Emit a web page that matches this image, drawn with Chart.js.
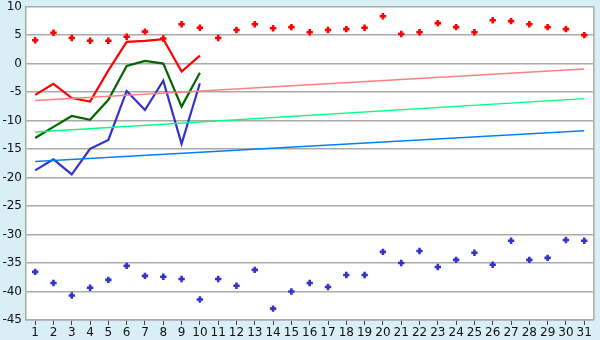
<!DOCTYPE html>
<html>
<head>
<meta charset="utf-8">
<script src="https://cdn.jsdelivr.net/npm/chart.js@4/dist/chart.umd.min.js"></script>
<style>
html,body{margin:0;padding:0;background:#d9eff6;}
canvas{display:block;}
</style>
</head>
<body>
<canvas id="c" width="600" height="340"></canvas>
<script>
const days = ['1','2','3','4','5','6','7','8','9','10','11','12','13','14','15','16','17','18','19','20','21','22','23','24','25','26','27','28','29','30','31'];
const redPoints = [4.1,5.4,4.5,4.0,4.0,4.7,5.6,4.4,6.9,6.3,4.5,5.9,6.9,6.2,6.4,5.5,5.9,6.05,6.3,8.3,5.2,5.5,7.1,6.4,5.5,7.6,7.45,6.9,6.4,6.05,5.0];
const bluePoints = [-36.55,-38.5,-40.7,-39.35,-37.95,-35.5,-37.25,-37.4,-37.8,-41.4,-37.8,-39.0,-36.2,-43.0,-40.0,-38.5,-39.2,-37.1,-37.1,-33.05,-35.0,-32.9,-35.7,-34.45,-33.2,-35.3,-31.1,-34.45,-34.1,-30.95,-31.1];
const redLine = [-5.5,-3.55,-6.05,-6.65,-1.2,3.8,4.0,4.3,-1.4,1.4];
const greenLine = [-13.05,-11.1,-9.2,-9.85,-6.35,-0.4,0.47,0.0,-7.55,-1.6];
const blueLine = [-18.75,-16.8,-19.45,-14.95,-13.4,-4.8,-8.15,-3.0,-14.1,-3.45];
const pinkTrend = [-6.5,-0.93];
const greenTrend = [-12.0,-6.15];
const blueTrend = [-17.2,-11.77];
const yTicks = [10,5,0,-5,-10,-15,-20,-25,-30,-35,-40,-45];

function endpoints(pair){
  const arr = days.map(()=>null);
  arr[0] = pair[0];
  arr[days.length-1] = pair[1];
  return arr;
}

const bgPlugin = {
  id:'bg',
  beforeDraw(chart){
    const {ctx, chartArea:a} = chart;
    ctx.save();
    ctx.fillStyle = '#d9eff6';
    ctx.fillRect(0,0,chart.width,chart.height);
    ctx.fillStyle = '#ffffff';
    ctx.fillRect(a.left,a.top,a.right-a.left,a.bottom-a.top);
    ctx.restore();
  },
  afterDraw(chart){
    const {ctx, chartArea:a} = chart;
    ctx.save();
    ctx.strokeStyle = '#aaaaaa';
    ctx.lineWidth = 1.5;
    ctx.beginPath();
    ctx.moveTo(a.right+0.5, a.top);
    ctx.lineTo(a.right+0.5, a.bottom);
    ctx.stroke();
    ctx.restore();
  }
};

const lineDefaults = {fill:false, pointRadius:0, pointHoverRadius:0, tension:0};

new Chart(document.getElementById('c'), {
  type:'line',
  data:{
    labels: days,
    datasets:[
      Object.assign({label:'pinkTrend', data:endpoints(pinkTrend), borderColor:'#ff8080', borderWidth:1.5, spanGaps:true}, lineDefaults),
      Object.assign({label:'greenTrend', data:endpoints(greenTrend), borderColor:'#00ff80', borderWidth:1.5, spanGaps:true}, lineDefaults),
      Object.assign({label:'blueTrend', data:endpoints(blueTrend), borderColor:'#0080ff', borderWidth:1.5, spanGaps:true}, lineDefaults),
      Object.assign({label:'red', data:redLine, borderColor:'#ff0000', borderWidth:2.2}, lineDefaults),
      Object.assign({label:'green', data:greenLine, borderColor:'#006600', borderWidth:2.2}, lineDefaults),
      Object.assign({label:'blue', data:blueLine, borderColor:'#3333cc', borderWidth:2.2}, lineDefaults),
      {label:'redPts', data:redPoints, showLine:false, pointStyle:'cross', pointRadius:3.2, pointBorderWidth:2.6, borderColor:'#ff0000', backgroundColor:'#ff0000'},
      {label:'bluePts', data:bluePoints, showLine:false, pointStyle:'cross', pointRadius:3.2, pointBorderWidth:2.6, borderColor:'#3333cc', backgroundColor:'#3333cc'}
    ]
  },
  options:{
    responsive:false,
    animation:false,
    events:[],
    layout:{padding:{top:5,right:5,left:0,bottom:0}},
    plugins:{legend:{display:false}, tooltip:{enabled:false}},
    scales:{
      x:{
        offset:true,
        grid:{display:true, drawOnChartArea:false, drawTicks:true, tickLength:5, color:'#444444', offset:false},
        border:{display:true, color:'#aaaaaa', width:1.5},
        ticks:{color:'#111111', font:{family:'DejaVu Sans', size:12}, padding:1, maxRotation:0, autoSkip:false},
        afterFit(s){ s.height = 20; s.paddingLeft = 0; s.paddingRight = 0; }
      },
      y:{
        min:-45, max:10,
        afterBuildTicks(s){ s.ticks = yTicks.map(v=>({value:v})); },
        grid:{color:'#aaaaaa', lineWidth:1.5, drawTicks:false},
        border:{display:true, color:'#aaaaaa', width:1.5},
        ticks:{color:'#111111', font:{family:'DejaVu Sans', size:12}, padding:4},
        afterFit(s){ s.width = 26; s.paddingTop = 0; s.paddingBottom = 0; }
      }
    }
  },
  plugins:[bgPlugin]
});
</script>
</body>
</html>
